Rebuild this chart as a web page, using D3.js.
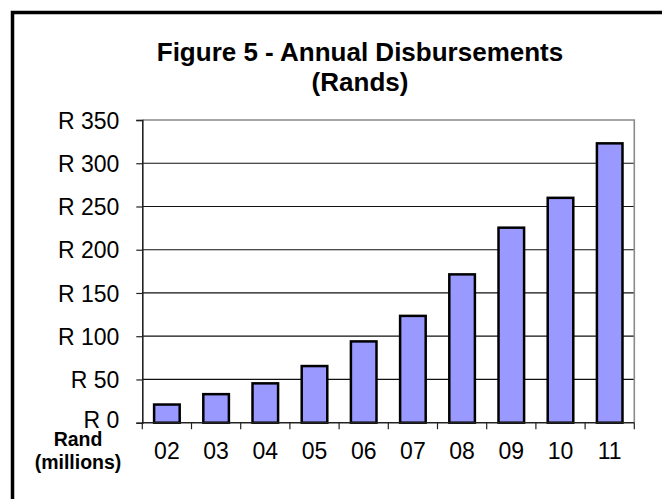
<!DOCTYPE html>
<html>
<head>
<meta charset="utf-8">
<title>Figure 5 - Annual Disbursements</title>
<script src="https://d3js.org/d3.v7.min.js"></script>
<style>
    body { margin: 0; background: #fff; }
    svg { display: block; font-family: "Liberation Sans", Arial, sans-serif; }
</style>
</head>
<body>
<div id="holder"></div>
<script>
    // data
    const years = ["02", "03", "04", "05", "06", "07", "08", "09", "10", "11"];
    const disbursements = [21, 33, 45.5, 65.5, 94, 123.5, 171.5, 225.5, 260, 323];
    const yTicks = [0, 50, 100, 150, 200, 250, 300, 350];
    const titleLines = ["Figure 5 - Annual Disbursements", "(Rands)"];
    const unitLines = ["Rand", "(millions)"];

    const w = 662, h = 499;
    const plotLeft = 142.3, plotRight = 634.3, plotTop = 120, plotBottom = 422.7;

    const svg = d3.select("#holder").append("svg")
        .attr("width", w)
        .attr("height", h);

    // outer frame
    svg.append("rect")
        .attr("x", 12.5).attr("y", 12.5)
        .attr("width", 700).attr("height", 600)
        .attr("fill", "none")
        .attr("stroke", "#000")
        .attr("stroke-width", 3.5);

    const xScale = d3.scaleBand()
        .domain(years)
        .range([plotLeft, plotRight])
        .paddingInner(0.48)
        .paddingOuter(0.24);

    const yScale = d3.scaleLinear()
        .domain([0, 350])
        .range([plotBottom, plotTop]);

    // gridlines
    svg.append("g")
        .selectAll("line")
        .data(yTicks.filter(d => d > 0 && d < 350))
        .enter().append("line")
        .attr("x1", plotLeft).attr("x2", plotRight)
        .attr("y1", d => yScale(d)).attr("y2", d => yScale(d))
        .attr("stroke", "#111")
        .attr("stroke-width", 1.2);

    // plot area border (top + right)
    svg.append("path")
        .attr("d", `M${plotLeft},${yScale(350)}H${plotRight}V${yScale(0)}`)
        .attr("fill", "none")
        .attr("stroke", "#8a8a8a")
        .attr("stroke-width", 1.6);

    // bars
    svg.append("g")
        .selectAll("rect")
        .data(years)
        .enter().append("rect")
        .attr("x", d => xScale(d))
        .attr("y", (d, i) => yScale(disbursements[i]))
        .attr("width", xScale.bandwidth())
        .attr("height", (d, i) => yScale(0) - yScale(disbursements[i]))
        .attr("fill", "#9999ff")
        .attr("stroke", "#000")
        .attr("stroke-width", 2.5);

    // y axis
    const yAxis = d3.axisLeft(yScale)
        .tickValues(yTicks)
        .tickSize(6)
        .tickPadding(17)
        .tickFormat(d => "R " + d);
    const yg = svg.append("g")
        .attr("transform", "translate(" + plotLeft + ",0)")
        .call(yAxis);
    yg.select(".domain").attr("stroke", "#222").attr("stroke-width", 1.6);
    yg.selectAll(".tick line").attr("stroke", "#222").attr("stroke-width", 1.2);
    yg.selectAll("text")
        .attr("fill", "#000")
        .attr("dy", d => d === 0 ? "0.22em" : "0.35em")
        .style("font-size", "23px")
        .style("font-family", "Liberation Sans, Arial, sans-serif");

    // x axis line
    svg.append("line")
        .attr("x1", plotLeft).attr("x2", plotRight)
        .attr("y1", plotBottom).attr("y2", plotBottom)
        .attr("stroke", "#222")
        .attr("stroke-width", 1.6);

    // x ticks at category boundaries
    const step = xScale.step();
    const bounds = years.map(d => xScale(d) - step * xScale.paddingInner() / 2);
    bounds[0] = plotLeft;
    bounds.push(plotRight);
    svg.append("g")
        .selectAll("line")
        .data(bounds)
        .enter().append("line")
        .attr("x1", d => d).attr("x2", d => d)
        .attr("y1", plotBottom).attr("y2", plotBottom + 6.5)
        .attr("stroke", "#222")
        .attr("stroke-width", 1.2);

    // x labels
    svg.append("g")
        .selectAll("text")
        .data(years)
        .enter().append("text")
        .attr("x", d => xScale(d) + xScale.bandwidth() / 2)
        .attr("y", 459)
        .attr("text-anchor", "middle")
        .style("font-size", "23px")
        .text(d => d);

    // title
    svg.append("g")
        .selectAll("text")
        .data(titleLines)
        .enter().append("text")
        .attr("x", 360)
        .attr("y", (d, i) => 60.5 + i * 30)
        .attr("text-anchor", "middle")
        .style("font-size", "26px")
        .style("font-weight", "bold")
        .text(d => d);

    // unit label
    svg.append("g")
        .selectAll("text")
        .data(unitLines)
        .enter().append("text")
        .attr("x", 78)
        .attr("y", (d, i) => 446 + i * 23)
        .attr("text-anchor", "middle")
        .style("font-size", "19.5px")
        .style("font-weight", "bold")
        .text(d => d);
</script>
</body>
</html>
